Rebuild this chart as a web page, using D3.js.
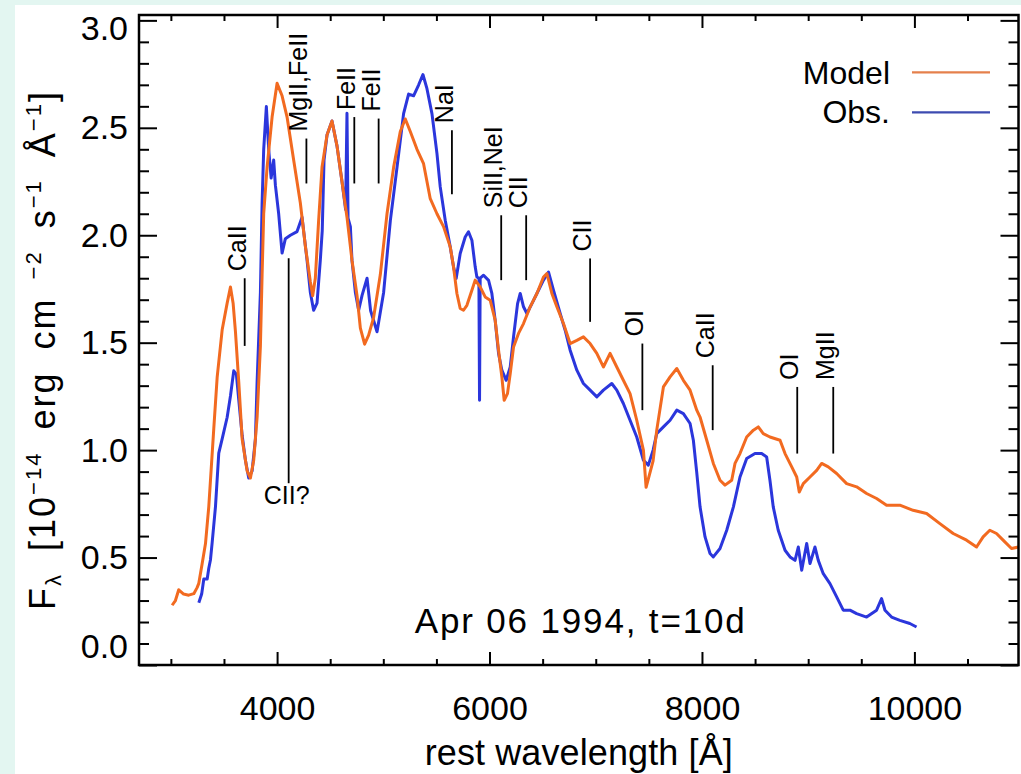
<!DOCTYPE html>
<html><head><meta charset="utf-8">
<script src="https://cdn.jsdelivr.net/npm/d3@7"></script>
<style>body{margin:0;background:#e3f6f1;} svg{display:block}</style>
</head><body><svg id="c" width="1021" height="774"></svg>
<script>
// ---- data ----
const modelWave = [3012,3043,3074,3120,3168,3216,3247,3263,3294,3326,3357,3404,3436,3483,3530,3561,3586,3608,3639,3671,3718,3749,3780,3812,3843,3859,3874,3906,3953,4000,4047,4094,4156,4219,4266,4313,4335,4360,4391,4423,4470,4517,4564,4611,4658,4705,4753,4784,4824,4862,4909,4972,5035,5097,5160,5207,5254,5317,5379,5442,5505,5567,5630,5661,5693,5724,5755,5787,5834,5865,5912,5959,6006,6053,6085,6116,6138,6169,6195,6226,6273,6320,6383,6446,6508,6540,6587,6634,6696,6759,6822,6884,6947,7010,7072,7135,7198,7260,7323,7386,7449,7474,7540,7574,7637,7700,7763,7825,7888,7951,7982,8045,8107,8170,8217,8280,8311,8358,8421,8484,8530,8577,8640,8735,8782,8845,8892,8916,8954,9017,9080,9127,9189,9268,9362,9456,9550,9644,9738,9863,9988,10115,10240,10365,10491,10585,10647,10710,10773,10835,10914,10980];
const modelFlux = [0.278,0.30,0.35,0.33,0.325,0.332,0.36,0.38,0.47,0.565,0.737,1.10,1.34,1.56,1.684,1.759,1.684,1.551,1.319,1.052,0.903,0.87,0.953,1.153,1.485,1.817,2.10,2.317,2.55,2.707,2.649,2.55,2.35,2.15,1.95,1.784,1.718,1.80,2.067,2.316,2.466,2.532,2.416,2.25,2.084,1.884,1.718,1.568,1.493,1.535,1.618,1.817,2.10,2.316,2.483,2.541,2.483,2.40,2.333,2.17,2.10,2.04,1.946,1.853,1.729,1.659,1.651,1.674,1.744,1.791,1.76,1.713,1.698,1.605,1.465,1.341,1.232,1.263,1.356,1.48,1.543,1.589,1.667,1.729,1.806,1.822,1.729,1.667,1.589,1.496,1.511,1.527,1.496,1.45,1.387,1.45,1.387,1.325,1.263,1.139,0.999,0.827,0.95,1.092,1.294,1.341,1.38,1.325,1.279,1.186,1.154,1.046,0.938,0.86,0.837,0.86,0.938,0.984,1.061,1.093,1.108,1.077,1.061,1.046,0.984,0.922,0.875,0.805,0.844,0.875,0.906,0.938,0.922,0.891,0.844,0.829,0.798,0.775,0.744,0.744,0.72,0.705,0.658,0.612,0.581,0.549,0.596,0.627,0.612,0.581,0.542,0.549];

const obsWave = [3263,3290,3310,3342,3357,3373,3389,3420,3451,3483,3530,3561,3592,3617,3639,3671,3702,3733,3765,3796,3812,3843,3859,3874,3899,3921,3944,3968,3984,4015,4047,4078,4125,4188,4235,4282,4313,4344,4376,4407,4425,4442,4470,4517,4564,4611,4645,4658,4668,4690,4705,4737,4768,4800,4847,4880,4941,5003,5066,5129,5191,5238,5285,5332,5373,5411,5458,5505,5536,5583,5630,5661,5686,5724,5771,5802,5834,5865,5881,5900,5906,5912,5944,5991,6022,6053,6085,6116,6157,6195,6226,6264,6289,6320,6352,6399,6446,6508,6555,6602,6665,6712,6759,6822,6884,6947,7010,7072,7151,7198,7260,7323,7386,7449,7495,7540,7574,7637,7700,7763,7825,7888,7919,7950,7982,8029,8076,8107,8170,8233,8296,8358,8421,8499,8562,8609,8640,8671,8718,8782,8829,8876,8907,8939,8986,9017,9064,9095,9142,9205,9268,9330,9393,9456,9550,9644,9691,9723,9785,9863,9957,10020];
const obsFlux = [0.29,0.33,0.40,0.40,0.45,0.49,0.571,0.737,0.986,1.052,1.153,1.252,1.369,1.352,1.235,1.069,0.953,0.87,0.903,1.052,1.319,1.734,2.15,2.40,2.599,2.40,2.266,2.35,2.233,2.10,1.917,1.984,2.0,2.017,2.084,1.884,1.734,1.651,1.684,1.884,2.02,2.35,2.466,2.532,2.416,2.25,2.12,2.568,2.08,2.04,1.884,1.734,1.651,1.72,1.80,1.65,1.551,1.734,2.067,2.316,2.566,2.657,2.649,2.699,2.748,2.682,2.566,2.381,2.225,2.07,1.946,1.853,1.799,1.915,1.992,2.016,1.977,1.853,1.806,1.80,1.232,1.80,1.814,1.79,1.729,1.605,1.45,1.372,1.325,1.387,1.527,1.682,1.729,1.667,1.636,1.682,1.729,1.791,1.829,1.744,1.636,1.558,1.465,1.372,1.31,1.279,1.248,1.279,1.31,1.279,1.217,1.139,1.061,0.953,0.93,1.0,1.077,1.108,1.139,1.186,1.17,1.124,1.046,0.90,0.736,0.596,0.519,0.503,0.542,0.627,0.736,0.875,0.961,0.984,0.984,0.968,0.86,0.736,0.627,0.534,0.503,0.487,0.549,0.441,0.565,0.472,0.549,0.487,0.425,0.379,0.317,0.255,0.255,0.239,0.223,0.255,0.309,0.255,0.223,0.208,0.193,0.177];

const seriesNames = ["Model","Obs."];
const xTickValues = [4000,6000,8000,10000];
const xMinorValues = [3000,3500,4500,5000,5500,6500,7000,7500,8500,9000,9500,10500];
const yTickValues = [0.0,0.5,1.0,1.5,2.0,2.5,3.0];
const yMinorValues = [0.1,0.2,0.3,0.4,0.6,0.7,0.8,0.9,1.1,1.2,1.3,1.4,1.6,1.7,1.8,1.9,2.1,2.2,2.3,2.4,2.6,2.7,2.8,2.9];

const lineNames  = ["CaII","CII?","MgII,FeII","FeII","FeII","NaI","SiII,NeI","CII","CII","OI","CaII","OI","MgII"];
const lineWave   = [3695,4109,4276,4727,4956,5646,6110,6345,6947,7439,8101,8897,9236];
const lineTop    = [1.80,1.893,2.45,2.55,2.543,2.489,2.093,2.093,1.892,1.496,1.395,1.294,1.294];
const lineBottom = [1.485,0.846,2.241,2.241,2.241,2.191,1.791,1.791,1.597,1.186,1.093,0.984,0.984];
const lineLabelBelow = [false,true,false,false,false,false,false,false,false,false,false,false,false];

const dateText = "Apr 06 1994, t=10d";

// ---- layout ----
const L = 139, R = 1018.5, T = 15, B = 665;
const FONT = "'Liberation Sans', Arial, Helvetica, sans-serif";
const ORANGE = "#f26a20", BLUE = "#2b36dc";

const svg = d3.select("#c");
svg.append("rect").attr("x",15).attr("y",5).attr("width",1006).attr("height",769).attr("fill","#ffffff");

const x = d3.scaleLinear().domain([2700,10980]).range([L,R]);
const y = d3.scaleLinear().domain([0,3.025]).range([B,T]);

// curves
const line = d3.line().x(d=>x(d[0])).y(d=>y(d[1]));
const obs = obsWave.map((w,i)=>[w,obsFlux[i]]);
const model = modelWave.map((w,i)=>[w,modelFlux[i]]);
const plot = svg.append("g");
plot.append("path").datum(obs).attr("d",line).attr("fill","none").attr("stroke",BLUE).attr("stroke-width",3).attr("stroke-linejoin","round");
plot.append("path").datum(model).attr("d",line).attr("fill","none").attr("stroke",ORANGE).attr("stroke-width",3).attr("stroke-linejoin","round");

// axes: ticks inward on all four sides
function styleAxis(g){ g.select(".domain").remove(); g.selectAll(".tick line").attr("stroke","#000").attr("stroke-width",2); g.selectAll("text").attr("fill","#000"); }
svg.append("g").attr("transform",`translate(0,${B})`).call(d3.axisBottom(x).tickValues(xTickValues).tickSize(-13).tickPadding(31).tickFormat(d3.format("d"))).call(styleAxis)
  .selectAll("text").attr("font-family",FONT).attr("font-size",34);
svg.append("g").attr("transform",`translate(0,${B})`).call(d3.axisBottom(x).tickValues(xMinorValues).tickSize(-6).tickFormat("")).call(styleAxis);
svg.append("g").attr("transform",`translate(0,${T})`).call(d3.axisTop(x).tickValues(xTickValues).tickSize(-13).tickFormat("")).call(styleAxis);
svg.append("g").attr("transform",`translate(0,${T})`).call(d3.axisTop(x).tickValues(xMinorValues).tickSize(-6).tickFormat("")).call(styleAxis);

const yl = svg.append("g").attr("transform",`translate(${L},0)`).call(d3.axisLeft(y).tickValues(yTickValues).tickSize(-18).tickPadding(11).tickFormat(d3.format(".1f"))).call(styleAxis);
yl.selectAll("text").attr("font-family",FONT).attr("font-size",34)
  .attr("dy", d => d===3 ? "19px" : (d===0 ? "-8px" : "11px"));
svg.append("g").attr("transform",`translate(${L},0)`).call(d3.axisLeft(y).tickValues(yMinorValues).tickSize(-10).tickFormat("")).call(styleAxis);
svg.append("g").attr("transform",`translate(${R},0)`).call(d3.axisRight(y).tickValues(yTickValues).tickSize(-18).tickFormat("")).call(styleAxis);
svg.append("g").attr("transform",`translate(${R},0)`).call(d3.axisRight(y).tickValues(yMinorValues).tickSize(-10).tickFormat("")).call(styleAxis);

svg.append("rect").attr("x",L).attr("y",T).attr("width",R-L).attr("height",B-T).attr("fill","none").attr("stroke","#000").attr("stroke-width",2.5);

// line identifications
const ids = svg.append("g");
lineNames.forEach((name,i)=>{
  const lx = x(lineWave[i]);
  ids.append("line").attr("x1",lx).attr("x2",lx).attr("y1",y(lineTop[i])).attr("y2",y(lineBottom[i]))
     .attr("stroke","#000").attr("stroke-width",1.8);
  if(lineLabelBelow[i]){
    ids.append("text").attr("x",lx-2).attr("y",y(lineBottom[i])+21).attr("text-anchor","middle")
       .attr("font-family",FONT).attr("font-size",25).text(name);
  } else {
    ids.append("text").attr("transform",`translate(${lx+1},${y(lineTop[i])-7}) rotate(-90)`)
       .attr("font-family",FONT).attr("font-size",25).text(name);
  }
});

// legend
const leg = svg.append("g");
[[seriesNames[0],ORANGE,84,72.3,"#e5804c"],[seriesNames[1],BLUE,123,112.3,"#3d4bb0"]].forEach(([n,c,ty,ly,lc])=>{
  leg.append("text").attr("x",890).attr("y",ty).attr("text-anchor","end").attr("font-family",FONT).attr("font-size",32).text(n);
  leg.append("line").attr("x1",912).attr("x2",990).attr("y1",ly).attr("y2",ly).attr("stroke",lc).attr("stroke-width",2.2);
});

// date annotation
svg.append("text").attr("x",(L+R)/2+1).attr("y",633).attr("text-anchor","middle")
  .attr("font-family",FONT).attr("font-size",35).attr("textLength",330).attr("lengthAdjust","spacing").text(dateText);

// x title
svg.append("text").attr("x",(L+R)/2).attr("y",765).attr("text-anchor","middle")
  .attr("font-family",FONT).attr("font-size",36).attr("textLength",308).attr("lengthAdjust","spacing")
  .text("rest wavelength [Å]");

// y title (starts at the bottom, reads upward)
const yt = svg.append("text").attr("transform",`translate(55,610) rotate(-90)`).attr("text-anchor","start")
  .attr("font-family",FONT).attr("font-size",36).attr("word-spacing",10);
yt.append("tspan").text("F");
yt.append("tspan").attr("font-size",22).attr("dy",6).text("λ");
yt.append("tspan").attr("dy",-6).text(" [10");
yt.append("tspan").attr("font-size",22).attr("dy",-14).text("−14");
yt.append("tspan").attr("dy",14).text(" erg cm");
yt.append("tspan").attr("font-size",22).attr("dy",-14).text(" −2");
yt.append("tspan").attr("dy",14).text(" s");
yt.append("tspan").attr("font-size",22).attr("dy",-14).text("−1");
yt.append("tspan").attr("dy",14).text(" Å");
yt.append("tspan").attr("font-size",22).attr("dy",-14).text("−1");
yt.append("tspan").attr("dy",14).text("]");
// stretch the title to the length seen in the reference
const natural = yt.node().getComputedTextLength();
const target = 520;
const nChars = yt.text().length;
yt.attr("letter-spacing", Math.max(0,(target-natural)/nChars));
</script></body></html>
